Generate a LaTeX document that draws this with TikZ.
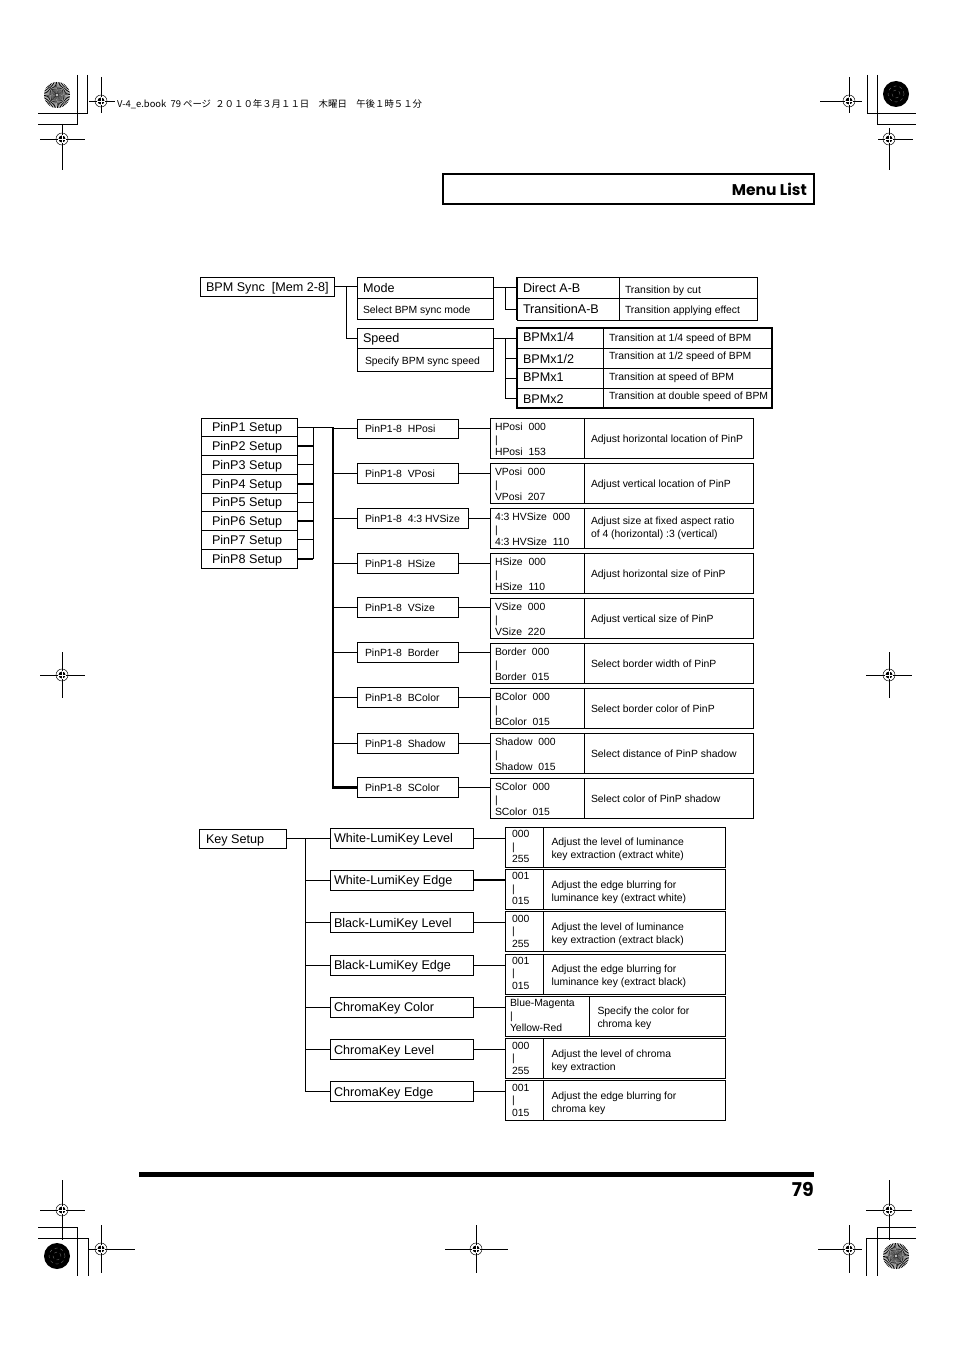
\documentclass[tikz,border=0pt]{standalone}
\usepackage{fontspec}
\setmainfont{Liberation Sans}
\newfontfamily\jpfont{Noto Sans CJK JP}
\newfontfamily\futfont{Poppins}
\tikzset{
  bx/.style={draw, line width=0.8pt, anchor=north west, inner sep=0pt, outer sep=0pt},
  tbig/.style={font=\fontsize{12.6}{15}\selectfont, inner sep=0pt, outer sep=0pt, anchor=west, text height=9pt, text depth=0pt},
  tsm/.style={font=\fontsize{10.4}{12.5}\selectfont, inner sep=0pt, outer sep=0pt, anchor=west, text height=7.5pt, text depth=0pt},
  tsmtwo/.style={font=\fontsize{10.4}{13}\selectfont, inner sep=0pt, outer sep=0pt, anchor=west, align=left},
  tml/.style={font=\fontsize{10.4}{12.5}\selectfont, inner sep=0pt, outer sep=0pt, anchor=north west, align=left},
  tdl/.style={font=\fontsize{10.4}{13}\selectfont, inner sep=0pt, outer sep=0pt, anchor=north west, align=left},
  ln/.style={line width=0.8pt},
  thk/.style={line width=2pt},
  busline/.style={line width=2.6pt},
  hair/.style={line width=0.45pt},
}
\newcommand\regm[6]{%
  \draw[hair] (#3,#2) -- (#4,#2) (#1,#5) -- (#1,#6);
  \draw[hair] (#1,#2) circle (6pt);
  \fill (#1,#2) circle (3.5pt);
  \draw[white, line width=0.7pt] (#1-3.6,#2) -- (#1+3.6,#2) (#1,#2-3.6) -- (#1,#2+3.6);
}
\newcommand\starc[2]{%
  \foreach \a in {0,7.5,...,352.5} {\fill (#1,#2) -- ++(\a:13pt) arc[start angle=\a, end angle=\a+3.75, radius=13pt] -- cycle;}
  \fill[white] (#1,#2) circle (1.2pt);
}
\newcommand\blackc[2]{%
  \fill (#1,#2) circle (13pt);
  \draw[gray, line width=0.3pt, dashed] (#1,#2) circle (4pt) (#1,#2) circle (8pt);
}
\newcommand\pinrow[8]{%
  \node[bx, minimum width=#4, minimum height=19.5] (it#1) at (357,#3) {};
  \node[tsm] (itT#1) at ([xshift=8pt]it#1.west) {#5};
  \node[bx, minimum width=94, minimum height=40] (va#1) at (490,#2) {};
  \node[tml] (vaT#1) at ([xshift=5pt,yshift=-5.25pt]va#1.north west) {#6};
  \node[bx, minimum width=169, minimum height=40] (de#1) at (584,#2) {};
  \node[#8] (deT#1) at ([xshift=7pt,yshift=-0.5pt]de#1.west) {#7};
  \draw[ln] (it#1.east) -- (it#1.east -| va#1.west);
  \draw[ln] (it#1.west -| busx) -- (it#1.west);
}
\newcommand\keyrow[8]{%
  \node[bx, minimum width=143, minimum height=20] (k#1) at (330,#2) {};
  \node[tbig] (kT#1) at ([xshift=4pt]k#1.west) {#4};
  \node[bx, minimum width=#6, minimum height=40] (kv#1) at (505,#3) {};
  \node[tml] (kvT#1) at ([xshift=#8,yshift=-3.25pt]kv#1.north west) {#5};
  \node[bx, minimum width={220-#6}, minimum height=40] (kd#1) at ({505+#6},#3) {};
  \node[tdl] (kdT#1) at ([xshift=8.5pt,yshift=-11.25pt]kd#1.north west) {#7};
  \draw[ln] (k#1.east) -- (k#1.east -| kv#1.west);
}
\begin{document}
\begin{tikzpicture}[x=1pt,y=-1pt]
\fill[white] (0,0) rectangle (954,1351);
\useasboundingbox (0,0) rectangle (954,1351);

% ---------- printer marks ----------
\starc{57}{95}
\blackc{896}{94}
\blackc{57}{1256}
\starc{896}{1256}
\draw[hair] (77,75) -- (77,124) -- (38,124);
\draw[hair] (87,75) -- (87,113) -- (38,113);
\draw[hair] (877,75) -- (877,124) -- (916,124);
\draw[hair] (867,75) -- (867,113) -- (916,113);
\draw[hair] (38,1227) -- (77,1227) -- (77,1276);
\draw[hair] (38,1238) -- (88,1238) -- (88,1276);
\draw[hair] (916,1227) -- (877,1227) -- (877,1276);
\draw[hair] (916,1238) -- (866,1238) -- (866,1276);
\regm{101}{101}{89}{115}{77}{113}
\regm{62}{139}{40}{85}{124}{170}
\regm{849}{101}{820}{862}{77}{113}
\regm{889}{139}{878}{913}{128}{170}
\regm{62}{675}{40}{85}{652}{698}
\regm{889}{675}{866}{912}{652}{698}
\regm{62}{1210}{40}{85}{1180}{1240}
\regm{101}{1249}{88}{135}{1225}{1273}
\regm{476}{1249}{445}{508}{1225}{1273}
\regm{849}{1249}{818}{862}{1225}{1273}
\regm{889}{1210}{866}{912}{1180}{1240}
\node[font=\jpfont\fontsize{9.4}{11}\selectfont, anchor=west, inner sep=0pt] (hdr) at (117,104)
  {V-4\_e.book\ \ 79 ページ\ \ ２０１０年３月１１日　木曜日　午後１時５１分};

% ---------- title ----------
\node[bx, line width=2.5pt, minimum width=371, minimum height=30] (menubox) at (443,174) {};
\node[font=\futfont\bfseries\fontsize{15.5}{18}\selectfont, anchor=east, inner sep=0pt] (menutitle) at (807,189.5) {Menu List};

% ---------- BPM Sync ----------
\node[bx, minimum width=134, minimum height=19] (bpm) at (200,277) {};
\node[tbig] (bpmT) at ([xshift=6pt]bpm.west) {BPM Sync~~[Mem 2-8]};
\node[bx, minimum width=136, minimum height=21.5] (mode) at (357,277) {};
\node[bx, minimum width=136, minimum height=21] (modeD) at (357,298.5) {};
\draw[line width=1.6pt] (mode.south west) -- (mode.south east);
\node[tbig] (modeT) at ([xshift=6pt]mode.west) {Mode};
\node[tsm] (modeDT) at ([xshift=6pt,yshift=-1pt]modeD.west) {Select BPM sync mode};
\node[bx, minimum width=136, minimum height=20] (speed) at (357,328) {};
\node[bx, minimum width=136, minimum height=23] (speedD) at (357,348) {};
\node[tbig] (speedT) at ([xshift=6pt]speed.west) {Speed};
\node[tsm] (speedDT) at ([xshift=8pt,yshift=-1pt]speedD.west) {Specify BPM sync speed};
\coordinate (j1) at (346,0);
\draw[ln] (bpm.east) -- (bpm.east -| mode.west);
\draw[ln] (bpm.east -| j1) |- (speed.west);

% mode values
\node[bx, minimum width=102, minimum height=21] (dab) at (517,277) {};
\node[bx, minimum width=138, minimum height=21] (dabD) at (619,277) {};
\node[bx, minimum width=102, minimum height=22] (tab) at (517,298) {};
\node[bx, minimum width=138, minimum height=22] (tabD) at (619,298) {};
\draw[line width=1.6pt] (dab.north west) -- (tab.south west);
\node[tbig] (dabT) at ([xshift=6pt]dab.west) {Direct A-B};
\node[tsm] (dabDT) at ([xshift=6pt,yshift=-2pt]dabD.west) {Transition by cut};
\node[tbig] (tabT) at ([xshift=6pt]tab.west) {TransitionA-B};
\node[tsm] (tabDT) at ([xshift=6pt,yshift=-1pt]tabD.west) {Transition applying effect};
\coordinate (j2) at (505,0);
\draw[ln] (mode.east) -- (mode.east -| dab.west);
\draw[ln] (mode.east -| j2) |- (tab.west);

% speed values
\node[bx, minimum width=86, minimum height=20] (s1) at (517,328) {};
\node[bx, minimum width=169, minimum height=20] (sd1) at (603,328) {};
\node[bx, minimum width=86, minimum height=20] (s2) at (517,348) {};
\node[bx, minimum width=169, minimum height=20] (sd2) at (603,348) {};
\node[bx, minimum width=86, minimum height=20] (s3) at (517,368) {};
\node[bx, minimum width=169, minimum height=20] (sd3) at (603,368) {};
\node[bx, minimum width=86, minimum height=20] (s4) at (517,388) {};
\node[bx, minimum width=169, minimum height=20] (sd4) at (603,388) {};
\draw[line width=1.3pt] (s1.north west) rectangle (sd4.south east);
\node[tbig] (s1T) at ([xshift=6pt,yshift=1pt]s1.west) {BPMx1/4};
\node[tbig] (s2T) at ([xshift=6pt,yshift=-1pt]s2.west) {BPMx1/2};
\node[tbig] (s3T) at ([xshift=6pt,yshift=1pt]s3.west) {BPMx1};
\node[tbig] (s4T) at ([xshift=6pt,yshift=-1pt]s4.west) {BPMx2};
\node[tsm] (sd1T) at ([xshift=6pt]sd1.west) {Transition at 1/4 speed of BPM};
\node[tsm] (sd2T) at ([xshift=6pt,yshift=2pt]sd2.west) {Transition at 1/2 speed of BPM};
\node[tsm] (sd3T) at ([xshift=6pt,yshift=1pt]sd3.west) {Transition at speed of BPM};
\node[tsm] (sd4T) at ([xshift=6pt,yshift=2pt]sd4.west) {Transition at double speed of BPM};
\draw[ln] (speed.east) -- (speed.east -| s1.west);
\draw[ln] (speed.east -| j2) |- (s4.west);
\draw[ln] (s2.west -| j2) -- (s2.west);
\draw[ln] (s3.west -| j2) -- (s3.west);

% ---------- PinP ----------
\foreach \i in {1,...,8} {
  \node[bx, minimum width=96, minimum height=18.75] (p\i) at (201,{418+18.75*(\i-1)}) {};
  \node[tbig] (pT\i) at ([xshift=11pt]p\i.west) {PinP\i{} Setup};
}
\coordinate (j3) at (313,0);
\coordinate (busx) at (333,0);
\foreach \i in {1,3,5,7} {\draw[ln] (p\i.east) -- (p\i.east -| j3);}
\foreach \i in {2,4,6,8} {\draw[thk] (p\i.east) -- (p\i.east -| j3);}
\draw[ln] (p1.east -| j3) -- (p8.east -| j3);
\draw[ln] (p1.east -| j3) -- (p1.east -| busx);

\pinrow{1}{418}{419}{101}{PinP1-8~~HPosi}{HPosi~~000\\|\\HPosi~~153}{Adjust horizontal location of PinP}{tsm}
\pinrow{2}{463}{463.5}{101}{PinP1-8~~VPosi}{VPosi~~000\\|\\VPosi~~207}{Adjust vertical location of PinP}{tsm}
\pinrow{3}{508}{508.5}{111}{PinP1-8~~4:3 HVSize}{4:3 HVSize~~000\\|\\4:3 HVSize~~110}{Adjust size at fixed aspect ratio\\of 4 (horizontal) :3 (vertical)}{tsmtwo}
\pinrow{4}{553}{553.5}{101}{PinP1-8~~HSize}{HSize~~000\\|\\HSize~~110}{Adjust horizontal size of PinP}{tsm}
\pinrow{5}{598}{597.5}{101}{PinP1-8~~VSize}{VSize~~000\\|\\VSize~~220}{Adjust vertical size of PinP}{tsm}
\pinrow{6}{643}{642.5}{101}{PinP1-8~~Border}{Border~~000\\|\\Border~~015}{Select border width of PinP}{tsm}
\pinrow{7}{688}{687.5}{101}{PinP1-8~~BColor}{BColor~~000\\|\\BColor~~015}{Select border color of PinP}{tsm}
\pinrow{8}{733}{733.5}{101}{PinP1-8~~Shadow}{Shadow~~000\\|\\Shadow~~015}{Select distance of PinP shadow}{tsm}
\pinrow{9}{778}{777.5}{101}{PinP1-8~~SColor}{SColor~~000\\|\\SColor~~015}{Select color of PinP shadow}{tsm}
\draw[busline] (p1.east -| busx) |- (it9.west);

% ---------- Key Setup ----------
\node[bx, minimum width=87, minimum height=19] (key) at (199,829) {};
\node[tbig] (keyT) at ([xshift=7pt]key.west) {Key Setup};
\keyrow{1}{828}{827}{White-LumiKey Level}{000\\|\\255}{38}{Adjust the level of luminance\\key extraction (extract white)}{7pt}
\keyrow{2}{870.3}{869.3}{White-LumiKey Edge}{001\\|\\015}{38}{Adjust the edge blurring for\\luminance key (extract white)}{7pt}
\keyrow{3}{912.6}{911.6}{Black-LumiKey Level}{000\\|\\255}{38}{Adjust the level of luminance\\key extraction (extract black)}{7pt}
\keyrow{4}{954.9}{953.9}{Black-LumiKey Edge}{001\\|\\015}{38}{Adjust the edge blurring for\\luminance key (extract black)}{7pt}
\keyrow{5}{997.2}{996.2}{ChromaKey Color}{Blue-Magenta\\|\\Yellow-Red}{84}{Specify the color for\\chroma key}{5pt}
\keyrow{6}{1039.5}{1038.5}{ChromaKey Level}{000\\|\\255}{38}{Adjust the level of chroma\\key extraction}{7pt}
\keyrow{7}{1081.8}{1080.8}{ChromaKey Edge}{001\\|\\015}{38}{Adjust the edge blurring for\\chroma key}{7pt}
\coordinate (j4) at (305,0);
\draw[ln] (key.east) -- (key.east -| k1.west);
\draw[ln] (key.east -| j4) |- (k7.west);
\foreach \i in {2,...,6} {\draw[ln] (k\i.west -| j4) -- (k\i.west);}
\draw[thk] (k2.east) -- (k2.east -| kv2.west);

% ---------- footer ----------
\fill (139,1172) rectangle (814,1177);
\node[font=\futfont\bfseries\fontsize{19}{22}\selectfont, anchor=base east, inner sep=0pt] (pagenum) at (814,1196) {79};
\end{tikzpicture}
\end{document}
